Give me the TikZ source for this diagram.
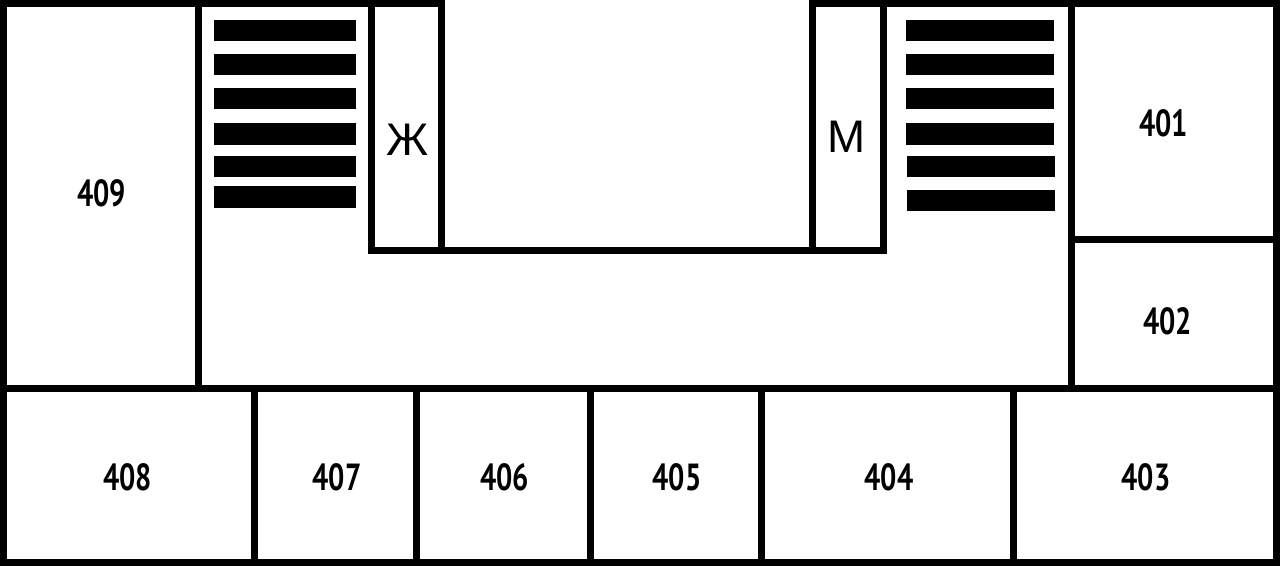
\documentclass[tikz,border=0pt]{standalone}
\usepackage{fontspec}
\setmainfont{PT Sans}
\newfontfamily\wcfont{Liberation Sans}
\tikzset{
    wall/.style={line width=0.14cm, line cap=rect, line join=miter},
    bar/.style={fill=black},
    room/.style={inner sep=0pt, font=\bfseries\fontsize{21.5}{21.5}\selectfont, xscale=0.76, transform shape},
    wc/.style={inner sep=0pt, font=\wcfont\fontsize{26}{26}\selectfont}
}

\begin{document}
\begin{tikzpicture}[x=0.02cm, y=-0.02cm]
    \useasboundingbox (0,0) rectangle (1280,566);

    \coordinate (NW) at (3.5, 3.5);
    \coordinate (NE) at (1276.5, 3.5);
    \coordinate (SW) at (3.5, 562.5);
    \coordinate (SE) at (1276.5, 562.5);

    % outer walls, open above the courtyard
    \draw[wall] (441.7, 250.5) -- (441.7, 3.5) -- (NW) -- (SW) -- (SE) -- (NE) -- (812, 3.5) -- (812, 250.5);
    \draw[wall] (371.5, 3.5) -- (371.5, 250.5) -- (883.5, 250.5) -- (883.5, 3.5);

    % inner walls
    \draw[wall] (3.5, 388) -- (1276.5, 388);
    \draw[wall] (198.5, 3.5) -- (198.5, 388);
    \draw[wall] (1071.5, 3.5) -- (1071.5, 388);
    \draw[wall] (1071.5, 239.5) -- (1276.5, 239.5);
    \draw[wall] (254.5, 388) -- (254.5, 562.5);
    \draw[wall] (416.5, 388) -- (416.5, 562.5);
    \draw[wall] (590, 388) -- (590, 562.5);
    \draw[wall] (761.5, 388) -- (761.5, 562.5);
    \draw[wall] (1013.5, 388) -- (1013.5, 562.5);

    % left stairs
    \fill[bar] (214.3, 19.7) rectangle (356, 41.3);
    \fill[bar] (214.3, 53.7) rectangle (356, 75.3);
    \fill[bar] (214.3, 87.7) rectangle (356, 109.3);
    \fill[bar] (214.3, 123) rectangle (356, 144.7);
    \fill[bar] (214.3, 155.7) rectangle (356, 177.3);
    \fill[bar] (214.3, 186.3) rectangle (356, 208);

    % right stairs
    \fill[bar] (905.7, 19.7) rectangle (1054, 41.3);
    \fill[bar] (905.7, 53.7) rectangle (1054, 75.3);
    \fill[bar] (905.7, 87.7) rectangle (1054, 109.3);
    \fill[bar] (905.7, 123) rectangle (1054, 144.7);
    \fill[bar] (906.7, 155.7) rectangle (1055, 177.3);
    \fill[bar] (906.7, 190) rectangle (1055, 211.3);

    \node[wc] (women) at (407.5, 140) {Ж};
    \node[wc] (men) at (846.3, 137) {М};

    \node[room] (r401) at (1163.5, 123.5) {401};
    \node[room] (r402) at (1167.5, 321) {402};
    \node[room] (r403) at (1146, 477) {403};
    \node[room] (r404) at (889, 477) {404};
    \node[room] (r405) at (677, 477) {405};
    \node[room] (r406) at (504.5, 477) {406};
    \node[room] (r407) at (337, 477) {407};
    \node[room] (r408) at (127.5, 477) {408};
    \node[room] (r409) at (101.7, 193.7) {409};
\end{tikzpicture}
\end{document}
